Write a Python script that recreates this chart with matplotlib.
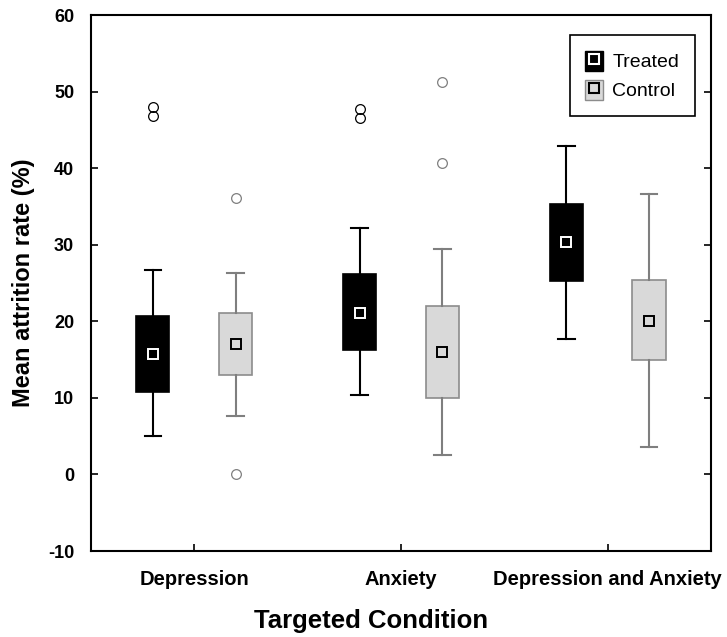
import matplotlib
matplotlib.use("Agg")
import matplotlib.pyplot as plt
from matplotlib.patches import Patch
from matplotlib.lines import Line2D

plt.rcParams['font.family'] = ['Liberation Sans', 'DejaVu Sans']

categories = ["Depression", "Anxiety", "Depression and Anxiety"]

treated_whislo = [5.0, 10.4, 17.7]
treated_q1 = [10.8, 16.2, 25.3]
treated_q3 = [20.7, 26.2, 35.3]
treated_whishi = [26.7, 32.2, 42.9]
treated_mean = [15.8, 21.1, 30.4]
treated_fliers = [[46.8, 48.0], [46.6, 47.7], []]

control_whislo = [7.6, 2.5, 3.6]
control_q1 = [13.0, 10.0, 14.9]
control_q3 = [21.1, 22.0, 25.4]
control_whishi = [26.3, 29.5, 36.7]
control_mean = [17.0, 16.0, 20.1]
control_fliers = [[36.1, 0.0], [40.7, 51.3], []]

yticks = [-10, 0, 10, 20, 30, 40, 50, 60]


def stats(lo, q1, q3, hi, mean, fl):
    return [dict(whislo=a, q1=b, med=m, q3=c, whishi=d, mean=m, fliers=f)
            for a, b, c, d, m, f in zip(lo, q1, q3, hi, mean, fl)]


fig = plt.figure(figsize=(7.27, 6.37), dpi=100)
ax = fig.add_axes([0.125, 0.135, 0.853, 0.841])

pos = list(range(1, len(categories) + 1))
off = 0.2
w = 0.16

ax.bxp(stats(treated_whislo, treated_q1, treated_q3, treated_whishi, treated_mean, treated_fliers),
       positions=[p - off for p in pos], widths=w, showmeans=True, patch_artist=True,
       boxprops=dict(facecolor='black', edgecolor='black', linewidth=1.2),
       whiskerprops=dict(color='black', linewidth=1.5),
       capprops=dict(color='black', linewidth=1.5),
       medianprops=dict(linestyle='none'),
       meanprops=dict(marker='s', markerfacecolor='black', markeredgecolor='white',
                      markersize=7.5, markeredgewidth=1.4),
       flierprops=dict(marker='o', markerfacecolor='none', markeredgecolor='black',
                       markersize=7, markeredgewidth=0.9),
       capwidths=0.08, manage_ticks=False)

ax.bxp(stats(control_whislo, control_q1, control_q3, control_whishi, control_mean, control_fliers),
       positions=[p + off for p in pos], widths=w, showmeans=True, patch_artist=True,
       boxprops=dict(facecolor='#d9d9d9', edgecolor='#8c8c8c', linewidth=1.2),
       whiskerprops=dict(color='#7f7f7f', linewidth=1.5),
       capprops=dict(color='#7f7f7f', linewidth=1.5),
       medianprops=dict(linestyle='none'),
       meanprops=dict(marker='s', markerfacecolor='#d9d9d9', markeredgecolor='black',
                      markersize=7.5, markeredgewidth=1.4),
       flierprops=dict(marker='o', markerfacecolor='none', markeredgecolor='#7f7f7f',
                       markersize=7, markeredgewidth=0.9),
       capwidths=0.08, manage_ticks=False)

ax.set_xlim(0.5, 3.5)
ax.set_ylim(-10, 60)
ax.set_yticks(yticks)
ax.set_xticks(pos)
ax.set_xticklabels(categories, fontsize=14.5, fontweight='bold')
ax.set_yticklabels([str(t) for t in yticks], fontsize=13, fontweight='bold')
ax.tick_params(axis='both', direction='in', length=5, width=1.2)
ax.tick_params(axis='x', pad=14)
ax.tick_params(axis='y', right=True, pad=12)
for s in ax.spines.values():
    s.set_linewidth(1.5)

ax.set_ylabel("Mean attrition rate (%)", fontsize=17, fontweight='bold', labelpad=9)
ax.set_xlabel("Targeted Condition", fontsize=18.5, fontweight='bold')
ax.xaxis.set_label_coords(0.452, -0.108)

h_t = (Patch(facecolor='black', edgecolor='black'),
       Line2D([], [], marker='s', linestyle='none', markerfacecolor='black',
              markeredgecolor='white', markersize=7, markeredgewidth=1.5))
h_c = (Patch(facecolor='#d9d9d9', edgecolor='#8c8c8c'),
       Line2D([], [], marker='s', linestyle='none', markerfacecolor='#d9d9d9',
              markeredgecolor='black', markersize=7, markeredgewidth=1.5))
leg = ax.legend([h_t, h_c], ["Treated", "Control"], loc='upper right',
                bbox_to_anchor=(0.974, 0.963), borderaxespad=0, fontsize=14,
                fancybox=False, edgecolor='black', framealpha=1,
                handlelength=0.9, handleheight=1.2, handletextpad=0.5,
                borderpad=0.8, labelspacing=0.45)
leg.get_frame().set_linewidth(1.2)

fig.savefig("out.png", dpi=100)
